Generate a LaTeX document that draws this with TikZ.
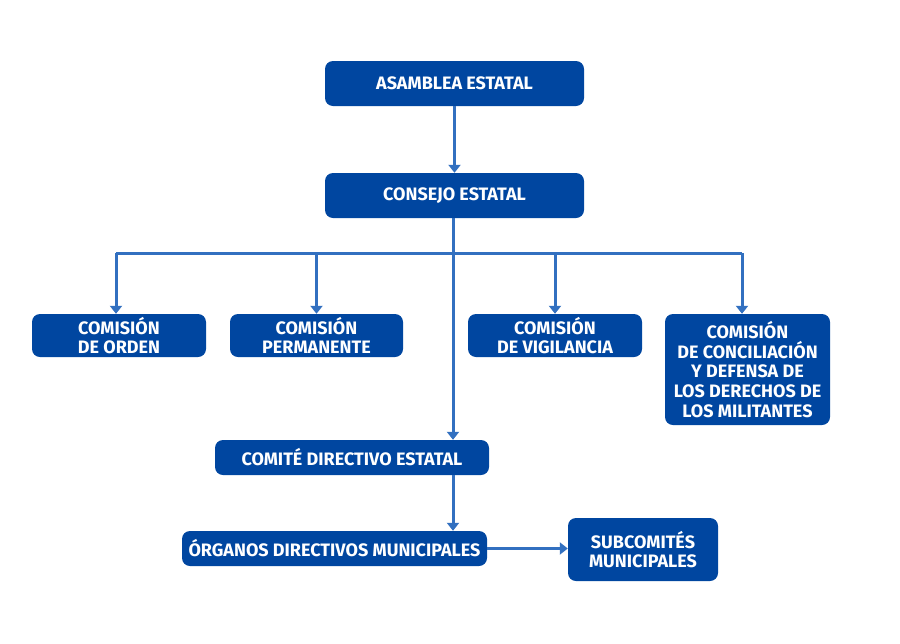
\documentclass[tikz,border=0pt]{standalone}
\usepackage{fontspec}
\setmainfont{Fira Sans}
\usepackage{xcolor}
\usepackage{tikz}
\usetikzlibrary{arrows.meta}
\definecolor{boxblue}{RGB}{0,70,160}
\definecolor{lineblue}{RGB}{50,112,192}

\begin{document}
\begin{tikzpicture}[x=1pt, y=-1pt,
  orgbox/.style={fill=boxblue, rounded corners=8pt, text=white, align=center,
    font=\fontsize{18}{19.7}\selectfont\bfseries, inner sep=0pt},
  link/.style={draw=lineblue, line width=3pt, -{Triangle[width=12pt,length=8pt]}}]
  \useasboundingbox (0,0) rectangle (900,643);
  % upper bodies
  \node[orgbox, minimum width=259pt, minimum height=45pt] (asamblea) at (454.5,83.5) {ASAMBLEA ESTATAL};
  \node[orgbox, minimum width=259pt, minimum height=45pt] (consejo) at (454.5,195.5) {CONSEJO ESTATAL};
  % commissions
  \node[orgbox, minimum width=174pt, minimum height=43pt] (orden) at (119,335.5) {COMISIÓN\\DE ORDEN};
  \node[orgbox, minimum width=173pt, minimum height=43pt] (permanente) at (316.5,335.5) {COMISIÓN\\PERMANENTE};
  \node[orgbox, minimum width=174pt, minimum height=43pt] (vigilancia) at (555,335.5) {COMISIÓN\\DE VIGILANCIA};
  \node[orgbox, minimum width=165pt, minimum height=111pt] (conciliacion) at (747.5,369.5) {COMISIÓN\\DE CONCILIACIÓN\\Y DEFENSA DE\\LOS DERECHOS DE\\LOS MILITANTES};
  % executive level
  \node[orgbox, minimum width=274pt, minimum height=35pt] (comite) at (352,457.5) {COMITÉ DIRECTIVO ESTATAL};
  \node[orgbox, minimum width=305pt, minimum height=35pt] (organos) at (334.5,548.5) {ÓRGANOS DIRECTIVOS MUNICIPALES};
  \node[orgbox, minimum width=150pt, minimum height=63pt] (subcomites) at (643,549.5) {SUBCOMITÉS\\MUNICIPALES};
  \coordinate (bus) at (453,253);
  \coordinate (left end) at (116,253);
  \coordinate (right end) at (742,253);

  \draw[link] (asamblea) -- (consejo);
  \draw[link] (bus |- consejo.south) -- (bus |- comite.north);
  \draw[draw=lineblue, line width=3pt] (left end) -- (right end);
  \draw[link] (left end) -- (left end |- orden.north);
  \draw[link] (permanente.north |- bus) -- (permanente.north);
  \draw[link] (vigilancia.north |- bus) -- (vigilancia.north);
  \draw[link] (right end) -- (right end |- conciliacion.north);
  \draw[link] (bus |- comite.south) -- (bus |- organos.north);
  \draw[link] (organos.east) -- (organos.east -| subcomites.west);
\end{tikzpicture}
\end{document}
